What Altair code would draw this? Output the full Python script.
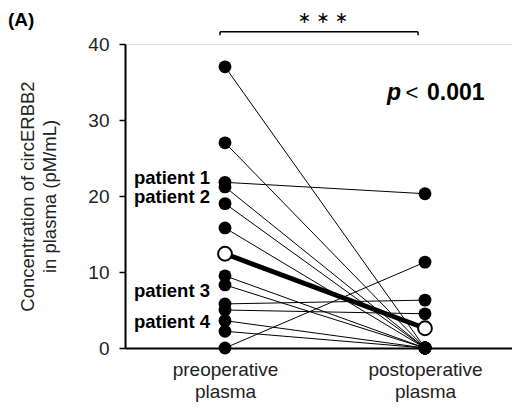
import altair as alt
import pandas as pd

# ---- data ----
groups = ["preoperative", "postoperative"]
pre_values = [37.0, 27.0, 21.8, 21.2, 19.0, 15.8, 9.5, 8.3, 5.8, 5.0, 3.6, 2.2, 0.0]
post_values = [0.0, 0.0, 20.3, 0.0, 0.0, 0.0, 0.0, 0.0, 6.3, 4.5, 0.0, 0.0, 11.3]
mean_values = [12.4, 2.6]
patient_labels = ["patient 1", "patient 2", "patient 3", "patient 4"]
patient_label_y = [22.4, 19.9, 7.5, 3.4]
p_text = ["p", "<", "0.001"]
stars = "∗  ∗  ∗"
panel_tag = "(A)"

FONT = "Liberation Sans"

rows = []
for i, (a, b) in enumerate(zip(pre_values, post_values)):
    rows.append({"pid": i, "g": 0, "v": a})
    rows.append({"pid": i, "g": 1, "v": b})
df = pd.DataFrame(rows)
mean_df = pd.DataFrame({"g": [0, 1], "v": mean_values})

xs = alt.Scale(domain=[-0.5, 1.435], nice=False, zero=False)
ys = alt.Scale(domain=[0, 40], nice=False, zero=False)

X = alt.X("g:Q", scale=xs, axis=alt.Axis(
    values=[0, 1], ticks=False, grid=False, title=None,
    labelExpr="datum.value == 0 ? ['preoperative','plasma'] : ['postoperative','plasma']",
    labelFont=FONT, labelFontSize=19, labelColor="#222", labelPadding=12,
    labelLineHeight=22, domainColor="black", domainWidth=2))
Y = alt.Y("v:Q", scale=ys, axis=alt.Axis(
    values=[0, 10, 20, 30, 40], grid=False, tickSize=6, tickColor="black", tickWidth=1.5,
    labelFont=FONT, labelFontSize=19, labelColor="#222", labelPadding=10,
    domainColor="black", domainWidth=2,
    title=["Concentration of circERBB2", "in plasma (pM/mL)"],
    titleFont=FONT, titleFontSize=18.5, titleFontWeight="normal", titleColor="#222",
    titlePadding=28, titleLineHeight=22))

base = alt.Chart(df)
lines = base.mark_line(color="black", strokeWidth=1).encode(x=X, y=Y, detail="pid:N")
mean_line = alt.Chart(mean_df).mark_line(color="black", strokeWidth=5).encode(
    x=alt.X("g:Q", scale=xs), y=alt.Y("v:Q", scale=ys))
points = base.mark_circle(color="black", size=165, opacity=1).encode(
    x=alt.X("g:Q", scale=xs), y=alt.Y("v:Q", scale=ys))
mean_pts = alt.Chart(mean_df).mark_point(shape="circle", filled=True, fill="white",
                                         stroke="black", strokeWidth=2, size=190, opacity=1).encode(
    x=alt.X("g:Q", scale=xs), y=alt.Y("v:Q", scale=ys))

lab_df = pd.DataFrame({"t": patient_labels, "v": patient_label_y, "g": [-0.075] * 4})
labels = alt.Chart(lab_df).mark_text(align="right", baseline="middle", font=FONT,
                                     fontSize=18.5, fontWeight="bold", color="black").encode(
    x=alt.X("g:Q", scale=xs), y=alt.Y("v:Q", scale=ys), text="t:N")

p1 = alt.Chart(pd.DataFrame({"t": [p_text[0]], "g": [0.81], "v": [33.5]})).mark_text(
    align="left", baseline="middle", font=FONT, fontSize=23, fontWeight="bold",
    fontStyle="italic", color="black").encode(
    x=alt.X("g:Q", scale=xs), y=alt.Y("v:Q", scale=ys), text="t:N")
p2 = alt.Chart(pd.DataFrame({"t": [p_text[1]], "g": [0.935], "v": [33.6]})).mark_text(
    align="center", baseline="middle", font=FONT, fontSize=22, fontWeight="normal",
    color="black").encode(
    x=alt.X("g:Q", scale=xs), y=alt.Y("v:Q", scale=ys), text="t:N")
p3 = alt.Chart(pd.DataFrame({"t": [p_text[2]], "g": [1.01], "v": [33.5]})).mark_text(
    align="left", baseline="middle", font=FONT, fontSize=23, fontWeight="bold",
    color="black").encode(
    x=alt.X("g:Q", scale=xs), y=alt.Y("v:Q", scale=ys), text="t:N")

star_txt = alt.Chart(pd.DataFrame({"t": [stars], "g": [0.49], "v": [43.45]})).mark_text(
    align="center", baseline="middle", font="DejaVu Sans", fontSize=16,
    color="black").encode(
    x=alt.X("g:Q", scale=xs), y=alt.Y("v:Q", scale=ys), text="t:N")

br_df = pd.DataFrame({
    "g": [-0.025, -0.025, 0.965],
    "g2": [0.965, -0.025, 0.965],
    "v": [41.6, 41.6, 41.6],
    "v2": [41.6, 41.15, 41.15],
})
bracket = alt.Chart(br_df).mark_rule(color="black", strokeWidth=1.5).encode(
    x=alt.X("g:Q", scale=xs), x2="g2:Q", y=alt.Y("v:Q", scale=ys), y2="v2:Q")

tag = alt.Chart(pd.DataFrame({"t": [panel_tag], "g": [-1.085], "v": [43.15]})).mark_text(
    align="left", baseline="middle", font=FONT, fontSize=19, fontWeight="bold",
    color="black").encode(
    x=alt.X("g:Q", scale=xs), y=alt.Y("v:Q", scale=ys), text="t:N")

chart = alt.layer(lines, mean_line, points, mean_pts, labels, p1, p2, p3,
                  star_txt, bracket, tag).properties(
    width=387, height=304,
    autosize=alt.AutoSizeParams(type="none"),
    padding={"left": 117, "top": 36, "right": 0, "bottom": 55},
).configure_view(stroke=None).configure(background="white")

chart.save("out.html", embed_options={"renderer": "svg", "actions": False})
